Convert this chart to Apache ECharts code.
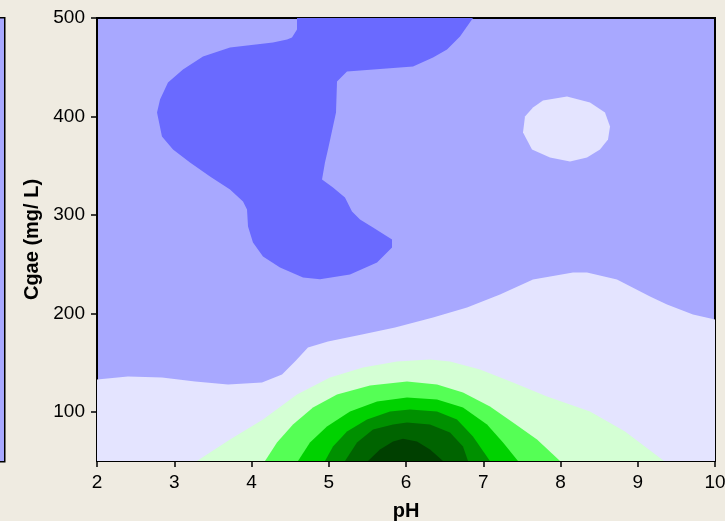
<!DOCTYPE html>
<html>
<head>
<meta charset="utf-8">
<style>
  html, body { margin: 0; padding: 0; background: #EFEBE1; }
  #chart { width: 725px; height: 521px; }
</style>
<script src="https://cdn.jsdelivr.net/npm/echarts@6/dist/echarts.min.js"></script>
</head>
<body>
<div id="chart"></div>
<script>
// Contour bands of Cgae (mg/L) versus pH; each band is a filled outline of [pH, Cgae] points.
const xTicks = [2, 3, 4, 5, 6, 7, 8, 9, 10];
const yTicks = [100, 200, 300, 400, 500];

// Deepest blue band hanging from the top edge
const bandDarkBlue = [
  [4.589, 500], [4.589, 488.3], [4.524, 480.2], [4.460, 478.2], [4.278, 475.1],
  [3.722, 470.0], [3.372, 460.9], [3.113, 447.7], [2.919, 434.5], [2.816, 417.2],
  [2.777, 404.0], [2.841, 379.6], [2.984, 366.4], [3.204, 353.2], [3.463, 339.0],
  [3.722, 325.8], [3.890, 313.6], [3.942, 305.5], [3.955, 288.3], [4.019, 272.0],
  [4.149, 257.8], [4.369, 246.6], [4.667, 236.5], [4.887, 234.5], [5.275, 239.5],
  [5.625, 251.7], [5.819, 267.0], [5.819, 275.0], [5.573, 287.2], [5.405, 295.3],
  [5.301, 303.5], [5.210, 317.7], [5.055, 327.9], [4.913, 336.0], [4.951, 353.2],
  [4.990, 366.4], [5.094, 404.0], [5.107, 435.5], [5.236, 445.7], [6.091, 450.7],
  [6.350, 459.9], [6.531, 468.0], [6.699, 481.2], [6.867, 500]
];

// Pale island near pH 8
const bandIsland = [
  [7.515, 383.7], [7.540, 399.9], [7.644, 409.1], [7.773, 416.2], [8.084, 420.3],
  [8.382, 414.2], [8.576, 404.0], [8.641, 389.8], [8.615, 376.6], [8.511, 366.4],
  [8.343, 358.3], [8.123, 354.2], [7.864, 358.3], [7.631, 366.4]
];

// Pale band covering the lower part of the plot
const bandPale = [
  [2.0, 132.8], [2.401, 135.8], [2.841, 134.8], [3.269, 130.8], [3.696, 127.7],
  [4.136, 129.7], [4.395, 137.8], [4.563, 151.0], [4.731, 165.3], [4.990, 171.4],
  [5.430, 178.5], [5.858, 185.6], [6.350, 195.7], [6.790, 205.9], [7.217, 219.1],
  [7.644, 234.4], [8.162, 241.5], [8.343, 241.5], [8.731, 234.4], [9.159, 217.1],
  [9.379, 209.0], [9.715, 198.8], [10.0, 193.7], [10.0, 50], [2.0, 50]
];

const bandGreen1 = [
  [3.294, 50], [3.722, 71.8], [4.149, 92.2], [4.589, 117.6], [5.016, 134.9],
  [5.443, 145.0], [5.883, 151.1], [6.311, 153.2], [6.570, 151.1], [6.958, 143.0],
  [7.385, 129.8], [7.825, 115.6], [8.382, 100.3], [8.835, 80.0], [9.340, 50]
];
const bandGreen2 = [
  [4.175, 50], [4.330, 68.8], [4.537, 87.1], [4.796, 104.4], [5.107, 117.6],
  [5.534, 126.8], [6.013, 130.8], [6.401, 127.7], [6.738, 119.6], [7.087, 105.4],
  [7.385, 89.1], [7.696, 71.9], [7.994, 50]
];
const bandGreen3 = [
  [4.602, 50], [4.757, 68.8], [4.977, 85.1], [5.275, 100.3], [5.625, 110.5],
  [6.013, 114.6], [6.401, 112.5], [6.738, 104.4], [7.049, 87.1], [7.256, 68.8],
  [7.450, 50]
];
const bandGreen4 = [
  [4.951, 50], [5.055, 64.7], [5.236, 79.9], [5.495, 92.2], [5.793, 100.3],
  [6.052, 102.3], [6.401, 100.3], [6.660, 92.2], [6.867, 74.9], [7.087, 50]
];
const bandGreen5 = [
  [5.210, 50], [5.366, 68.8], [5.573, 82.0], [5.832, 87.1], [6.013, 89.1],
  [6.311, 87.1], [6.570, 79.0], [6.738, 64.7], [6.803, 50]
];
const bandGreen6 = [
  [5.508, 50], [5.663, 61.6], [5.832, 69.7], [5.961, 72.7], [6.142, 69.7],
  [6.311, 61.6], [6.479, 50]
];

// Painted back to front
const bands = [bandDarkBlue, bandIsland, bandPale, bandGreen1, bandGreen2, bandGreen3, bandGreen4, bandGreen5, bandGreen6];
const bandColors = ['#6A6AFF', '#E4E4FF', '#E4E4FF', '#D4FFD4', '#55FF55', '#00D200', '#009000', '#006400', '#004000'];

const chart = echarts.init(document.getElementById('chart'));
const labelFont = { fontFamily: 'Liberation Sans, Arial, sans-serif', fontSize: 19, color: '#000' };
const titleFont = { fontFamily: 'Liberation Sans, Arial, sans-serif', fontSize: 20, fontWeight: 'bold', color: '#000' };

chart.setOption({
  backgroundColor: '#EFEBE1',
  animation: false,
  grid: {
    left: 97, top: 18, right: 10, bottom: 60,
    outerBoundsMode: 'none', containLabel: false,
    show: true, backgroundColor: '#A8A8FF', borderColor: '#000', borderWidth: 2
  },
  xAxis: {
    type: 'value', min: 2, max: 10, interval: 1,
    name: 'pH', nameLocation: 'middle', nameGap: 40,
    nameTextStyle: titleFont,
    axisLine: { show: true, lineStyle: { color: '#000', width: 2 } },
    axisTick: { show: true, length: 6, customValues: xTicks, lineStyle: { color: '#000', width: 1.5 } },
    axisLabel: Object.assign({ margin: 12, customValues: xTicks }, labelFont),
    splitLine: { show: false }
  },
  yAxis: {
    type: 'value', min: 50, max: 500,
    name: 'Cgae (mg/ L)', nameLocation: 'middle', nameGap: 53, nameRotate: 90,
    nameTextStyle: titleFont,
    axisLine: { show: true, lineStyle: { color: '#000', width: 2 } },
    axisTick: { show: true, length: 6, customValues: yTicks, lineStyle: { color: '#000', width: 1.5 } },
    axisLabel: Object.assign({ margin: 12, customValues: yTicks }, labelFont),
    splitLine: { show: false }
  },
  graphic: [{
    type: 'rect', left: -10, top: 17,
    shape: { x: 0, y: 0, width: 14, height: 444 },
    style: { fill: '#A8A8FF', stroke: '#000', lineWidth: 1.5 },
    z: 10
  }],
  series: [{
    type: 'custom',
    coordinateSystem: 'cartesian2d',
    clip: true,
    data: bands.map((b, i) => [i]),
    encode: { x: -1, y: -1 },
    renderItem: function (params, api) {
      const idx = api.value(0);
      const pts = bands[idx].map(p => api.coord(p));
      return {
        type: 'polygon',
        shape: { points: pts },
        style: { fill: bandColors[idx], stroke: null }
      };
    }
  }]
});
</script>
</body>
</html>
